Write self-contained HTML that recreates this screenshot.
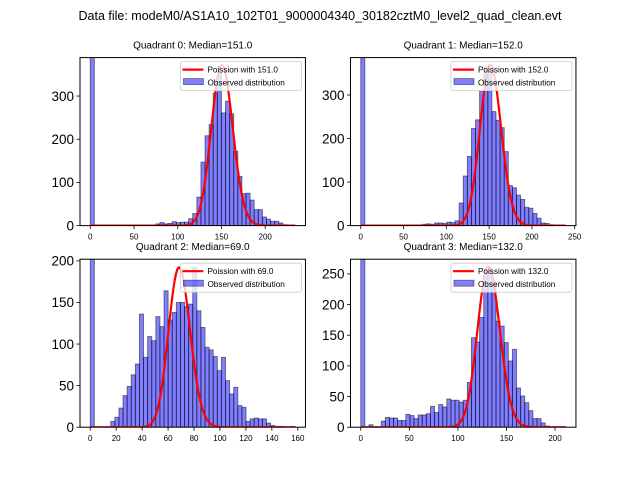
<!DOCTYPE html>
<html><head><meta charset="utf-8"><style>
body{margin:0;background:#fff;}
svg{display:block;font-family:"Liberation Sans","DejaVu Sans",sans-serif;}
</style></head><body>
<svg id="fig" width="640" height="480" viewBox="0 0 640 480" xmlns="http://www.w3.org/2000/svg">
<rect width="640" height="480" fill="#fff"/>
<text x="320" y="20" text-anchor="middle" font-size="12.5" fill="#000">Data file: modeM0/AS1A10_102T01_9000004340_30182cztM0_level2_quad_clean.evt</text>
</svg>
<script>
// ---- data ----
const quadNames = ["Quadrant 0","Quadrant 1","Quadrant 2","Quadrant 3"];
const medians = [151.0, 152.0, 69.0, 132.0];
const dataMax = [234.3, 239.5, 158, 211];
const yMax = [389, 386, 202, 274];
const curvePeak = [372, 370, 192, 262];
const counts0 = [1500,0,0,0,0,0,0,0,0,0,0,0,0,0,0,0,4,7,4,5,9,7,8,8,16,28,66,147,208,234,307,353,261,288,259,172,114,74,75,59,37,37,20,15,10,10,6,2,1,1];
const counts1 = [1500,0,0,0,0,0,0,0,0,0,0,0,0,0,0,3,4,3,6,6,5,8,7,11,52,114,159,223,243,310,365,355,262,242,225,170,92,87,70,60,42,40,28,17,6,5,2,1,1,1];
const counts2 = [1500,0,0,0,0,7,12,23,38,49,63,76,136,84,109,104,133,121,164,129,138,150,150,145,148,192,140,120,96,93,85,68,84,56,40,48,26,24,7,10,11,10,10,5,2,1,1,0,0,1];
const counts3 = [1500,0,4,0,0,10,16,15,15,11,11,21,19,14,20,20,22,34,24,37,33,46,44,44,41,44,73,146,139,179,250,256,234,173,165,138,108,127,64,51,40,27,14,14,7,2,0,0,0,1];
const yTicks0 = [0,100,200,300];
const yTicks1 = [0,100,200,300];
const yTicks2 = [0,50,100,150,200];
const yTicks3 = [0,50,100,150,200,250];
const xTicks0 = [0,50,100,150,200];
const xTicks1 = [0,50,100,150,200,250];
const xTicks2 = [0,20,40,60,80,100,120,140,160];
const xTicks3 = [0,50,100,150,200];

const allCounts=[counts0,counts1,counts2,counts3];
const allY=[yTicks0,yTicks1,yTicks2,yTicks3];
const allX=[xTicks0,xTicks1,xTicks2,xTicks3];
const boxes=[[80,57.6],[350.5,57.6],[80,259.2],[350.5,259.2]];
const AW=225.45, AH=168;
const NS="http://www.w3.org/2000/svg";
const svg=document.getElementById('fig');
function mk(tag,attrs,parent){const e=document.createElementNS(NS,tag);for(const k in attrs)e.setAttribute(k,attrs[k]);(parent||svg).appendChild(e);return e;}
function lgamma(z){const g=7,c=[0.99999999999980993,676.5203681218851,-1259.1392167224028,771.32342877765313,-176.61502916214059,12.507343278686905,-0.13857109526572012,9.9843695780195716e-6,1.5056327351493116e-7];
 if(z<0.5)return Math.log(Math.PI/Math.sin(Math.PI*z))-lgamma(1-z);z-=1;let x=c[0];for(let i=1;i<g+2;i++)x+=c[i]/(z+i);const t=z+g+0.5;return 0.5*Math.log(2*Math.PI)+(z+0.5)*Math.log(t)-t+Math.log(x);}
function logpmf(k,l){return k*Math.log(l)-l-lgamma(k+1);}

for(let q=0;q<4;q++){
 const [ax,ay]=boxes[q];
 const M=dataMax[q], x0=-0.05*M, x1=1.05*M;
 const sx=v=>ax+(v-x0)/(x1-x0)*AW;
 const sy=v=>ay+AH-Math.min(v,yMax[q]*1.2)/yMax[q]*AH;
 const g=mk('g',{});
 
 
 const cid='clip'+q;
 const cp=mk('clipPath',{id:cid},g);mk('rect',{x:ax,y:ay,width:AW,height:AH},cp);
 const t=mk('text',{x:ax+AW/2,y:ay-9,'text-anchor':'middle','font-size':'10'},g);
 t.textContent=quadNames[q]+': Median='+medians[q].toFixed(1);
 
 
 const bars=mk('g',{'clip-path':'url(#'+cid+')'},g);
 const counts=allCounts[q], n=counts.length, bw=M/n;
 counts.forEach((c,i)=>{
  if(c<=0)return;
  const r=mk('rect',{x:sx(i*bw),y:sy(c),width:sx((i+1)*bw)-sx(i*bw),height:ay+AH-sy(c),fill:'rgba(0,0,255,0.5)',stroke:'rgba(0,0,0,0.5)','stroke-width':'0.9'},bars);
  
  
 });
 const lam=medians[q], lp=logpmf(lam,lam);
 let d='';
 for(let k=0;k<=Math.floor(M);k++){const v=curvePeak[q]*Math.exp(logpmf(k,lam)-lp);d+=(k?'L':'M')+sx(k).toFixed(2)+','+sy(v).toFixed(2);}
 const pl=mk('path',{d:d,fill:'none',stroke:'#ff0000','stroke-width':'2.2','stroke-linejoin':'round'},bars);
 
 
 mk('rect',{x:ax,y:ay,width:AW,height:AH,fill:'none',stroke:'#000','stroke-width':'1'},g);
 allY[q].forEach(v=>{
  const y=sy(v);
  mk('line',{x1:ax-3.5,x2:ax,y1:y,y2:y,stroke:'#000','stroke-width':'0.8'},g);
  const tt=mk('text',{x:ax-6,y:y+4.8,'text-anchor':'end','font-size':'13.5'},g);tt.textContent=v;
  
  
 });
 allX[q].forEach(v=>{
  const x=sx(v);
  mk('line',{x1:x,x2:x,y1:ay+AH,y2:ay+AH+3.5,stroke:'#000','stroke-width':'0.8'},g);
  const tt=mk('text',{x:x,y:ay+AH+14,'text-anchor':'middle','font-size':'8'},g);tt.textContent=v;
  
  
 });
 const lx=ax+AW-125, ly=ay+4;
 const lg=mk('g',{},g);
 
 
 mk('rect',{x:lx,y:ly,width:121,height:29,rx:2,fill:'rgba(255,255,255,0.8)',stroke:'#ccc','stroke-width':'0.8'},lg);
 mk('line',{x1:lx+2,x2:lx+23,y1:ly+8,y2:ly+8,stroke:'#ff0000','stroke-width':'2.2'},lg);
 const t1=mk('text',{x:lx+27,y:ly+11,'font-size':'8.2'},lg);t1.textContent='Poission with '+lam.toFixed(1);
 
 
 mk('rect',{x:lx+3,y:ly+17,width:20,height:6,fill:'rgba(0,0,255,0.5)',stroke:'rgba(0,0,0,0.5)','stroke-width':'0.8'},lg);
 const t2=mk('text',{x:lx+27,y:ly+24,'font-size':'8.2'},lg);t2.textContent='Observed distribution';
 
 
}
</script>
</body></html>
